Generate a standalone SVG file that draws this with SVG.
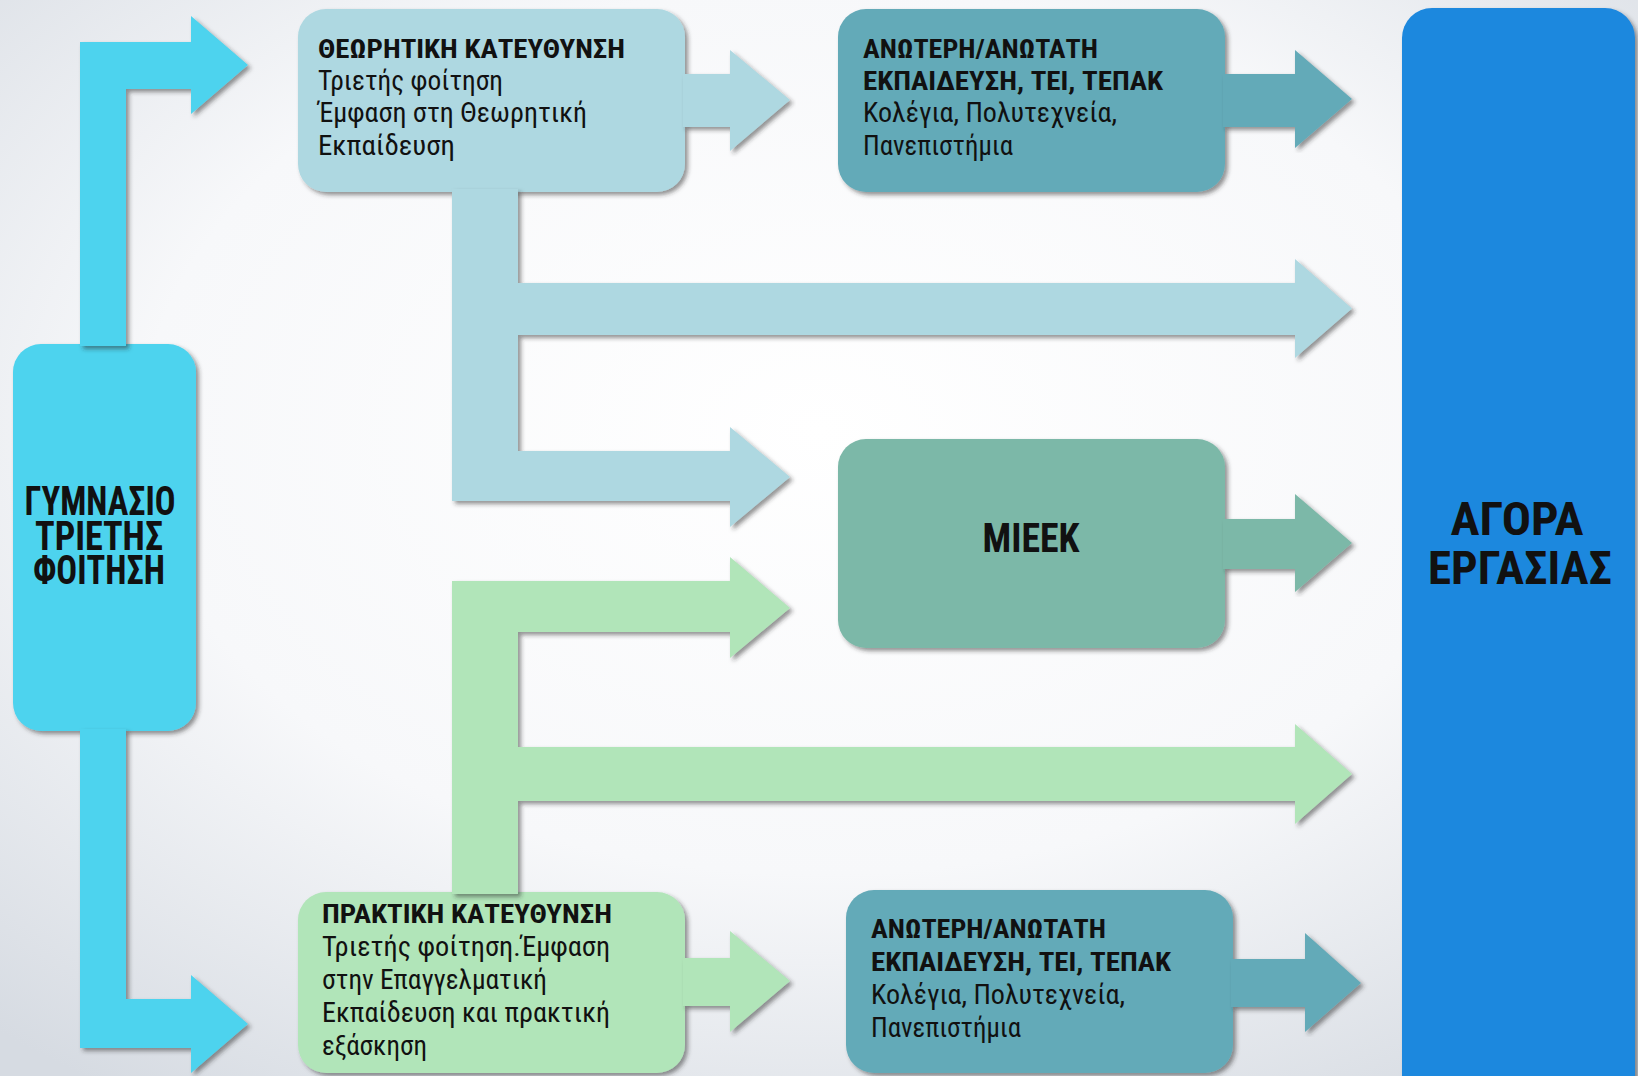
<svg xmlns="http://www.w3.org/2000/svg" width="1638" height="1076" viewBox="0 0 1638 1076">
<defs>
  <radialGradient id="bg" cx="0.5" cy="0.4" r="0.75">
    <stop offset="0" stop-color="#ffffff"/>
    <stop offset="0.55" stop-color="#f7f8fa"/>
    <stop offset="1" stop-color="#d6dbe2"/>
  </radialGradient>
  <filter id="sh" x="-5%" y="-5%" width="110%" height="110%">
    <feDropShadow dx="3" dy="3" stdDeviation="2" flood-color="#2a2a2a" flood-opacity="0.5"/>
  </filter>
  <style>
    .t { font-family: "Liberation Sans Narrow", "Roboto Condensed", "DejaVu Sans Condensed", "Liberation Sans", sans-serif; font-stretch: condensed; fill: #111; }
    .b { font-weight: bold; font-size: 26px; }
    .r { font-weight: normal; font-size: 27px; }
    .big { font-weight: bold; font-size: 41px; text-anchor: middle; }
    .cyan { fill: #4dd3ee; }
    .theory { fill: #aed8e1; }
    .higher { fill: #64aab8; }
    .mieek { fill: #7cb8a8; }
    .pract { fill: #b1e5b9; }
    .market { fill: #1f88de; }
    .shape { filter: url(#sh); }
  </style>
</defs>
<rect x="0" y="0" width="1638" height="1076" fill="url(#bg)"/>

<g id="node-gymnasio">
  <rect class="cyan shape" x="13" y="344" width="183" height="387" rx="28"/>
  <text class="t big" x="100" y="515" textLength="151" lengthAdjust="spacingAndGlyphs">ΓΥΜΝΑΣΙΟ</text>
  <text class="t big" x="99" y="550" textLength="128" lengthAdjust="spacingAndGlyphs">ΤΡΙΕΤΗΣ</text>
  <text class="t big" x="99" y="584" textLength="132" lengthAdjust="spacingAndGlyphs">ΦΟΙΤΗΣΗ</text>
</g>

<g id="node-theory">
  <rect class="theory shape" x="298" y="9" width="387" height="183" rx="28"/>
  <text class="t b" x="318" y="58" textLength="307" lengthAdjust="spacingAndGlyphs">ΘΕΩΡΗΤΙΚΗ ΚΑΤΕΥΘΥΝΣΗ</text>
  <text class="t r" x="318" y="90" textLength="185" lengthAdjust="spacingAndGlyphs">Τριετής φοίτηση</text>
  <text class="t r" x="318" y="122" textLength="269" lengthAdjust="spacingAndGlyphs">Έμφαση στη Θεωρητική</text>
  <text class="t r" x="318" y="155" textLength="137" lengthAdjust="spacingAndGlyphs">Εκπαίδευση</text>
</g>

<g id="node-practical">
  <rect class="pract shape" x="298" y="892" width="387" height="181" rx="28"/>
  <text class="t b" x="322" y="923" textLength="290" lengthAdjust="spacingAndGlyphs">ΠΡΑΚΤΙΚΗ ΚΑΤΕΥΘΥΝΣΗ</text>
  <text class="t r" x="322" y="956" textLength="288" lengthAdjust="spacingAndGlyphs">Τριετής φοίτηση.Έμφαση</text>
  <text class="t r" x="322" y="989" textLength="225" lengthAdjust="spacingAndGlyphs">στην Επαγγελματική</text>
  <text class="t r" x="322" y="1022" textLength="288" lengthAdjust="spacingAndGlyphs">Εκπαίδευση και πρακτική</text>
  <text class="t r" x="322" y="1055" textLength="105" lengthAdjust="spacingAndGlyphs">εξάσκηση</text>
</g>

<g id="node-higher-top">
  <rect class="higher shape" x="838" y="9" width="387" height="183" rx="28"/>
  <text class="t b" x="863" y="58" textLength="235" lengthAdjust="spacingAndGlyphs">ΑΝΩΤΕΡΗ/ΑΝΩΤΑΤΗ</text>
  <text class="t b" x="863" y="90" textLength="300" lengthAdjust="spacingAndGlyphs">ΕΚΠΑΙΔΕΥΣΗ, ΤΕΙ, ΤΕΠΑΚ</text>
  <text class="t r" x="863" y="122" textLength="254" lengthAdjust="spacingAndGlyphs">Κολέγια, Πολυτεχνεία,</text>
  <text class="t r" x="863" y="155" textLength="150" lengthAdjust="spacingAndGlyphs">Πανεπιστήμια</text>
</g>

<g id="node-mieek">
  <rect class="mieek shape" x="838" y="439" width="387" height="209" rx="28"/>
  <text class="t big" x="1031" y="552" style="font-size:41px" textLength="97" lengthAdjust="spacingAndGlyphs">ΜΙΕΕΚ</text>
</g>

<g id="node-higher-bottom">
  <rect class="higher shape" x="846" y="890" width="387" height="183" rx="28"/>
  <text class="t b" x="871" y="938" textLength="235" lengthAdjust="spacingAndGlyphs">ΑΝΩΤΕΡΗ/ΑΝΩΤΑΤΗ</text>
  <text class="t b" x="871" y="971" textLength="300" lengthAdjust="spacingAndGlyphs">ΕΚΠΑΙΔΕΥΣΗ, ΤΕΙ, ΤΕΠΑΚ</text>
  <text class="t r" x="871" y="1004" textLength="254" lengthAdjust="spacingAndGlyphs">Κολέγια, Πολυτεχνεία,</text>
  <text class="t r" x="871" y="1037" textLength="150" lengthAdjust="spacingAndGlyphs">Πανεπιστήμια</text>
</g>

<g id="node-market">
  <rect class="market shape" x="1402" y="8" width="233" height="1100" rx="30"/>
  <text class="t big" x="1517" y="535" style="font-size:47px" textLength="133" lengthAdjust="spacingAndGlyphs">ΑΓΟΡΑ</text>
  <text class="t big" x="1520" y="584" style="font-size:47px" textLength="184" lengthAdjust="spacingAndGlyphs">ΕΡΓΑΣΙΑΣ</text>
</g>

<g id="connectors">
  <path class="cyan shape" d="M80,346 L80,42 L191,42 L191,16 L248,65 L191,114 L191,89 L126,89 L126,346 Z"/>
  <path class="cyan shape" d="M80,729 L80,1048 L191,1048 L191,1073 L248,1024 L191,975 L191,999 L126,999 L126,729 Z"/>
  <path class="theory shape" d="M452,189 L452,501 L730,501 L730,527 L790,477 L730,427 L730,451 L518,451 L518,335 L1295,335 L1295,358 L1352,308.5 L1295,259 L1295,283 L518,283 L518,189 Z"/>
  <path class="theory shape" d="M683,74 L730,74 L730,50 L790,100 L730,151 L730,127 L683,127 Z"/>
  <path class="pract shape" d="M452,894 L452,581 L730,581 L730,557 L790,608 L730,658 L730,632 L518,632 L518,747 L1295,747 L1295,724 L1352,774 L1295,824 L1295,801 L518,801 L518,894 Z"/>
  <path class="pract shape" d="M683,958 L730,958 L730,931 L790,981 L730,1032 L730,1006 L683,1006 Z"/>
  <path class="higher shape" d="M1223,74 L1295,74 L1295,50 L1352,99 L1295,148 L1295,127 L1223,127 Z"/>
  <path class="mieek shape" d="M1223,519 L1295,519 L1295,494 L1352,543 L1295,592 L1295,569 L1223,569 Z"/>
  <path class="higher shape" d="M1231,959 L1305,959 L1305,933 L1361,983 L1305,1032 L1305,1007 L1231,1007 Z"/>
</g>
</svg>
